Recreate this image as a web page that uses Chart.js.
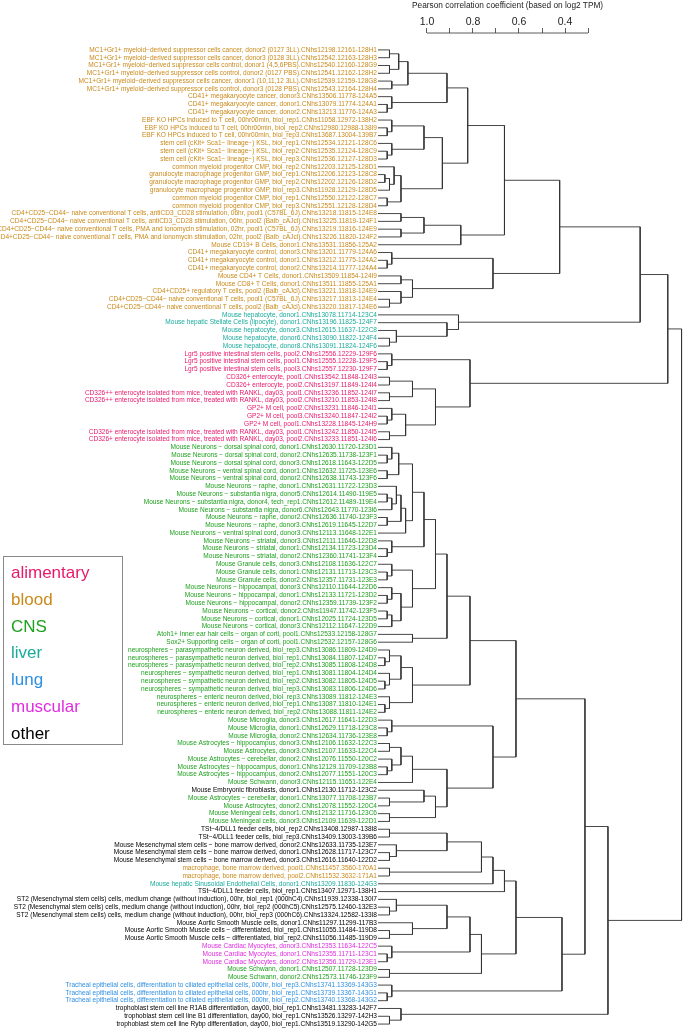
<!DOCTYPE html>
<html>
<head>
<meta charset="utf-8">
<script src="https://cdn.jsdelivr.net/npm/chart.js@4.4.1/dist/chart.umd.min.js"></script>
<style>
  body { margin: 0; background: #fff; font-family: "Liberation Sans", Arial, sans-serif; }
  #wrap { position: relative; width: 685px; height: 1035px; }
  #title { position: absolute; left: 412px; top: 0px; font-size: 8.3px; color: #222; white-space: nowrap; }
  #legend { position: absolute; left: 3px; top: 556px; width: 120px; height: 189px; border: 1px solid #888;
            box-sizing: border-box; padding: 3px 0 0 7px; }
  #legend div { font-size: 17px; line-height: 26.8px; }
</style>
</head>
<body>
<div id="wrap">
  <canvas id="treeChart" width="685" height="1035"></canvas>
  <div id="title">Pearson correlation coefficient (based on log2 TPM)</div>
  <div id="legend"></div>
</div>
<script>
// LEAVES (top to bottom)
const names = [
  "MC1+Gr1+ myeloid−derived suppressor cells cancer, donor2 (0127 3LL).CNhs12198.12161-128H1",
  "MC1+Gr1+ myeloid−derived suppressor cells cancer, donor3 (0128 3LL).CNhs12542.12163-128H3",
  "MC1+Gr1+ myeloid−derived suppressor cells control, donor1 (4,5,6PBS).CNhs12540.12160-128G9",
  "MC1+Gr1+ myeloid−derived suppressor cells control, donor2 (0127 PBS).CNhs12541.12162-128H2",
  "MC1+Gr1+ myeloid−derived suppressor cells cancer, donor1 (10,11,12 3LL).CNhs12539.12159-128G8",
  "MC1+Gr1+ myeloid−derived suppressor cells control, donor3 (0128 PBS).CNhs12543.12164-128H4",
  "CD41+ megakaryocyte cancer, donor3.CNhs13506.11778-124A5",
  "CD41+ megakaryocyte cancer, donor1.CNhs13079.11774-124A1",
  "CD41+ megakaryocyte cancer, donor2.CNhs13213.11776-124A3",
  "EBF KO HPCs induced to T cell, 00hr00min, biol_rep1.CNhs11058.12972-138H2",
  "EBF KO HPCs induced to T cell, 00hr00min, biol_rep2.CNhs12980.12988-138I9",
  "EBF KO HPCs induced to T cell, 00hr00min, biol_rep3.CNhs13687.13004-139B7",
  "stem cell (cKit+ Sca1− lineage−) KSL, biol_rep1.CNhs12534.12121-128C6",
  "stem cell (cKit+ Sca1− lineage−) KSL, biol_rep2.CNhs12535.12124-128C9",
  "stem cell (cKit+ Sca1− lineage−) KSL, biol_rep3.CNhs12536.12127-128D3",
  "common myeloid progenitor CMP, biol_rep2.CNhs12203.12125-128D1",
  "granulocyte macrophage progenitor GMP, biol_rep1.CNhs12206.12123-128C8",
  "granulocyte macrophage progenitor GMP, biol_rep2.CNhs12202.12126-128D2",
  "granulocyte macrophage progenitor GMP, biol_rep3.CNhs11928.12129-128D5",
  "common myeloid progenitor CMP, biol_rep1.CNhs12550.12122-128C7",
  "common myeloid progenitor CMP, biol_rep3.CNhs12551.12128-128D4",
  "CD4+CD25−CD44− naive conventional T cells, antiCD3_CD28 stimulation, 06hr, pool1 (C57BL_6J).CNhs13218.11815-124E8",
  "CD4+CD25−CD44− naive conventional T cells, antiCD3_CD28 stimulation, 06hr, pool2 (Balb_cAJcl).CNhs13225.11819-124F1",
  "CD4+CD25−CD44− naive conventional T cells, PMA and ionomycin stimulation, 02hr, pool1 (C57BL_6J).CNhs13219.11816-124E9",
  "CD4+CD25−CD44− naive conventional T cells, PMA and ionomycin stimulation, 02hr, pool2 (Balb_cAJcl).CNhs13226.11820-124F2",
  "Mouse CD19+ B Cells, donor1.CNhs13531.11856-125A2",
  "CD41+ megakaryocyte control, donor3.CNhs13201.11779-124A6",
  "CD41+ megakaryocyte control, donor1.CNhs13212.11775-124A2",
  "CD41+ megakaryocyte control, donor2.CNhs13214.11777-124A4",
  "Mouse CD4+ T Cells, donor1.CNhs13509.11854-124I9",
  "Mouse CD8+ T Cells, donor1.CNhs13511.11855-125A1",
  "CD4+CD25+ regulatory T cells, pool2 (Balb_cAJcl).CNhs13221.11818-124E9",
  "CD4+CD25−CD44− naive conventional T cells, pool1 (C57BL_6J).CNhs13217.11813-124E4",
  "CD4+CD25−CD44− naive conventional T cells, pool2 (Balb_cAJcl).CNhs13220.11817-124E6",
  "Mouse hepatocyte, donor1.CNhs13078.11714-123C4",
  "Mouse hepatic Stellate Cells (lipocyte), donor1.CNhs13196.11825-124F7",
  "Mouse hepatocyte, donor3.CNhs12615.11637-122C8",
  "Mouse hepatocyte, donor6.CNhs13090.11822-124F4",
  "Mouse hepatocyte, donor8.CNhs13091.11824-124F6",
  "Lgr5 positive intestinal stem cells, pool2.CNhs12556.12229-129F6",
  "Lgr5 positive intestinal stem cells, pool1.CNhs12555.12228-129F5",
  "Lgr5 positive intestinal stem cells, pool3.CNhs12557.12230-129F7",
  "CD326+ enterocyte, pool1.CNhs13542.11848-124I3",
  "CD326+ enterocyte, pool2.CNhs13197.11849-124I4",
  "CD326++ enterocyte isolated from mice, treated with RANKL, day03, pool1.CNhs13236.11852-124I7",
  "CD326++ enterocyte isolated from mice, treated with RANKL, day03, pool2.CNhs13210.11853-124I8",
  "GP2+ M cell, pool2.CNhs13231.11846-124I1",
  "GP2+ M cell, pool3.CNhs13240.11847-124I2",
  "GP2+ M cell, pool1.CNhs13228.11845-124H9",
  "CD326+ enterocyte isolated from mice, treated with RANKL, day03, pool1.CNhs13242.11850-124I5",
  "CD326+ enterocyte isolated from mice, treated with RANKL, day03, pool2.CNhs13233.11851-124I6",
  "Mouse Neurons − dorsal spinal cord, donor1.CNhs12630.11720-123D1",
  "Mouse Neurons − dorsal spinal cord, donor2.CNhs12635.11738-123F1",
  "Mouse Neurons − dorsal spinal cord, donor3.CNhs12618.11643-122D5",
  "Mouse Neurons − ventral spinal cord, donor1.CNhs12632.11725-123E6",
  "Mouse Neurons − ventral spinal cord, donor2.CNhs12638.11743-123F6",
  "Mouse Neurons − raphe, donor1.CNhs12631.11722-123D3",
  "Mouse Neurons − substantia nigra, donor5.CNhs12614.11490-119E5",
  "Mouse Neurons − substantia nigra, donor4, tech_rep1.CNhs12612.11489-119E4",
  "Mouse Neurons − substantia nigra, donor6.CNhs12643.11770-123I6",
  "Mouse Neurons − raphe, donor2.CNhs12636.11740-123F3",
  "Mouse Neurons − raphe, donor3.CNhs12619.11645-122D7",
  "Mouse Neurons − ventral spinal cord, donor3.CNhs12113.11648-122E1",
  "Mouse Neurons − striatal, donor3.CNhs12111.11646-122D8",
  "Mouse Neurons − striatal, donor1.CNhs12134.11723-123D4",
  "Mouse Neurons − striatal, donor2.CNhs12360.11741-123F4",
  "Mouse Granule cells, donor3.CNhs12108.11636-122C7",
  "Mouse Granule cells, donor1.CNhs12131.11713-123C3",
  "Mouse Granule cells, donor2.CNhs12357.11731-123E3",
  "Mouse Neurons − hippocampal, donor3.CNhs12110.11644-122D6",
  "Mouse Neurons − hippocampal, donor1.CNhs12133.11721-123D2",
  "Mouse Neurons − hippocampal, donor2.CNhs12359.11739-123F2",
  "Mouse Neurons − cortical, donor2.CNhs11947.11742-123F5",
  "Mouse Neurons − cortical, donor1.CNhs12025.11724-123D5",
  "Mouse Neurons − cortical, donor3.CNhs12112.11647-122D9",
  "Atoh1+ Inner ear hair cells − organ of corti, pool1.CNhs12533.12158-128G7",
  "Sox2+ Supporting cells − organ of corti, pool1.CNhs12532.12157-128G6",
  "neurospheres − parasympathetic neuron derived, biol_rep3.CNhs13086.11809-124D9",
  "neurospheres − parasympathetic neuron derived, biol_rep1.CNhs13084.11807-124D7",
  "neurospheres − parasympathetic neuron derived, biol_rep2.CNhs13085.11808-124D8",
  "neurospheres − sympathetic neuron derived, biol_rep1.CNhs13081.11804-124D4",
  "neurospheres − sympathetic neuron derived, biol_rep2.CNhs13082.11805-124D5",
  "neurospheres − sympathetic neuron derived, biol_rep3.CNhs13083.11806-124D6",
  "neurospheres − enteric neuron derived, biol_rep3.CNhs13089.11812-124E3",
  "neurospheres − enteric neuron derived, biol_rep1.CNhs13087.11810-124E1",
  "neurospheres − enteric neuron derived, biol_rep2.CNhs13088.11811-124E2",
  "Mouse Microglia, donor3.CNhs12617.11641-122D3",
  "Mouse Microglia, donor1.CNhs12629.11718-123C8",
  "Mouse Microglia, donor2.CNhs12634.11736-123E8",
  "Mouse Astrocytes − hippocampus, donor3.CNhs12106.11632-122C3",
  "Mouse Astrocytes, donor3.CNhs12107.11633-122C4",
  "Mouse Astrocytes − cerebellar, donor2.CNhs12076.11550-120C2",
  "Mouse Astrocytes − hippocampus, donor1.CNhs12129.11709-123B8",
  "Mouse Astrocytes − hippocampus, donor2.CNhs12077.11551-120C3",
  "Mouse Schwann, donor3.CNhs12115.11651-122E4",
  "Mouse Embryonic fibroblasts, donor1.CNhs12130.11712-123C2",
  "Mouse Astrocytes − cerebellar, donor1.CNhs13077.11708-123B7",
  "Mouse Astrocytes, donor2.CNhs12078.11552-120C4",
  "Mouse Meningeal cells, donor1.CNhs12132.11716-123C6",
  "Mouse Meningeal cells, donor3.CNhs12109.11639-122D1",
  "TSt−4/DLL1 feeder cells, biol_rep2.CNhs13408.12987-138I8",
  "TSt−4/DLL1 feeder cells, biol_rep3.CNhs13409.13003-139B6",
  "Mouse Mesenchymal stem cells − bone marrow derived, donor2.CNhs12633.11735-123E7",
  "Mouse Mesenchymal stem cells − bone marrow derived, donor1.CNhs12628.11717-123C7",
  "Mouse Mesenchymal stem cells − bone marrow derived, donor3.CNhs12616.11640-122D2",
  "macrophage, bone marrow derived, pool1.CNhs11457.3560-170A1",
  "macrophage, bone marrow derived, pool2.CNhs11532.3632-171A1",
  "Mouse hepatic Sinusoidal Endothelial Cells, donor1.CNhs13209.11830-124G3",
  "TSt−4/DLL1 feeder cells, biol_rep1.CNhs13407.12971-138H1",
  "ST2 (Mesenchymal stem cells) cells, medium change (without induction), 00hr, biol_rep1 (000hC4).CNhs11939.12338-130I7",
  "ST2 (Mesenchymal stem cells) cells, medium change (without induction), 00hr, biol_rep2 (000hC5).CNhs12575.12460-132E3",
  "ST2 (Mesenchymal stem cells) cells, medium change (without induction), 00hr, biol_rep3 (000hC6).CNhs13324.12582-133I8",
  "Mouse Aortic Smooth Muscle cells, donor1.CNhs11297.11299-117B3",
  "Mouse Aortic Smooth Muscle cells − differentiated, biol_rep1.CNhs11055.11484-119D8",
  "Mouse Aortic Smooth Muscle cells − differentiated, biol_rep2.CNhs11056.11485-119D9",
  "Mouse Cardiac Myocytes, donor3.CNhs12353.11634-122C5",
  "Mouse Cardiac Myocytes, donor1.CNhs12355.11711-123C1",
  "Mouse Cardiac Myocytes, donor2.CNhs12356.11729-123E1",
  "Mouse Schwann, donor1.CNhs12507.11728-123D9",
  "Mouse Schwann, donor2.CNhs12573.11746-123F9",
  "Tracheal epithelial cells, differentiation to ciliated epithelial cells, 000hr, biol_rep3.CNhs13741.13369-143G3",
  "Tracheal epithelial cells, differentiation to ciliated epithelial cells, 000hr, biol_rep1.CNhs13739.13367-143G1",
  "Tracheal epithelial cells, differentiation to ciliated epithelial cells, 000hr, biol_rep2.CNhs13740.13368-143G2",
  "trophoblast stem cell line R1AB differentiation, day00, biol_rep1.CNhs13481.13283-142F7",
  "trophoblast stem cell line B1 differentiation, day00, biol_rep1.CNhs13526.13297-142H3",
  "trophoblast stem cell line Rybp differentiation, day00, biol_rep1.CNhs13519.13290-142G5"
];

// tissue group of each run of leaves (run starts at the given leaf index)
const groupStarts = [0, 34, 39, 51, 95, 96, 100, 105, 107, 108, 115, 118, 120, 123];
const groupOfRun  = ["blood", "liver", "alimentary", "CNS", "other", "CNS", "other",
                     "blood", "liver", "other", "muscular", "CNS", "lung", "other"];

const legendGroups = ["alimentary", "blood", "CNS", "liver", "lung", "muscular", "other"];
const groupColors = {
  alimentary: "#e8196b", blood: "#c98a1b", CNS: "#1fa01f", liver: "#1aab9b",
  lung: "#2f8fe0", muscular: "#e02de0", other: "#000000"
};

// merges: [first leaf, first leaf of right branch, last leaf, height (1 - r)]
const merges = [
  // blood
  [0,1,1,.05],[2,3,3,.05],[0,2,3,.09],[4,5,5,.06],[0,4,5,.13],
  [7,8,8,.04],[6,7,8,.06],[0,6,8,.3],
  [10,11,11,.04],[9,10,11,.06],[13,14,14,.04],[12,13,14,.06],[9,12,14,.2],
  [16,17,17,.03],[16,18,18,.05],[15,16,18,.07],[19,20,20,.04],[15,19,20,.1],
  [9,15,20,.28],[0,9,20,.39],
  [21,22,22,.1],[23,24,24,.1],[21,23,24,.2],[21,25,25,.36],[0,21,25,.55],
  [27,28,28,.04],[26,27,28,.06],
  [29,30,30,.1],[32,33,33,.05],[31,32,33,.1],[29,31,33,.15],
  [26,29,33,.5],[0,26,33,.79],
  // liver
  [37,38,38,.05],[36,37,38,.08],[35,36,38,.3],[34,35,38,.35],[0,34,38,1.14],
  // alimentary
  [40,41,41,.04],[39,40,41,.06],[42,43,43,.05],[44,45,45,.05],[42,44,45,.15],
  [47,48,48,.04],[46,47,48,.06],[49,50,50,.05],[46,49,50,.12],[42,46,50,.25],
  [39,42,50,.4],[0,39,50,1.26],
  // CNS and others
  [52,53,53,.04],[51,52,53,.06],[54,55,55,.04],[51,54,55,.09],
  [57,58,58,.04],[57,59,59,.06],[56,57,59,.08],[60,61,61,.04],[56,60,61,.1],
  [56,62,62,.12],[51,56,62,.15],
  [64,65,65,.04],[63,64,65,.06],[51,63,65,.2],
  [67,68,68,.04],[66,67,68,.06],[70,71,71,.04],[69,70,71,.06],
  [72,73,73,.04],[72,74,74,.06],[69,72,74,.1],[66,69,74,.15],[51,66,74,.25],
  [75,76,76,.15],[51,75,76,.3],
  [78,79,79,.03],[77,78,79,.05],[81,82,82,.03],[80,81,82,.05],[77,80,82,.1],
  [84,85,85,.03],[83,84,85,.05],[77,83,85,.15],[51,77,85,.4],
  [87,88,88,.04],[86,87,88,.06],
  [89,90,90,.05],[92,93,93,.04],[91,92,93,.06],[89,91,93,.1],[89,94,94,.15],
  [96,97,97,.05],[95,96,97,.2],[98,99,99,.05],[95,98,99,.25],[89,95,99,.3],
  [86,89,99,.5],[51,86,99,.6],
  [100,101,101,.05],[103,104,104,.05],[102,103,104,.08],[100,102,104,.3],
  [105,106,106,.05],[100,105,106,.45],[100,107,107,.5],[100,108,108,.55],
  [110,111,111,.05],[109,110,111,.08],[113,114,114,.05],[112,113,114,.15],
  [109,112,114,.3],[116,117,117,.04],[115,116,117,.06],[109,115,117,.4],
  [118,119,119,.05],[109,118,119,.45],[100,109,119,.6],
  [121,122,122,.04],[120,121,122,.06],[100,120,122,.8],[51,100,122,.9],
  [124,125,125,.05],[123,124,125,.1],[51,123,125,1.0],
  [0,51,125,1.32]
];

// top axis
const axisTicks = [1.0, 0.9, 0.8, 0.7, 0.6, 0.5, 0.4, 0.3];
const axisLabels = [1.0, 0.8, 0.6, 0.4];

function groupOf(i) {
  let g = groupOfRun[0];
  groupStarts.forEach((s, k) => { if (i >= s) g = groupOfRun[k]; });
  return g;
}

// elbow segments of the dendrogram, separated by gaps
function treeSegments() {
  const nodes = new Map();
  names.forEach((n, i) => nodes.set(i + "-" + i, { y: i, h: 0 }));
  const pts = [];
  merges.slice().sort((a, b) => (a[2] - a[0]) - (b[2] - b[0])).forEach(([from, split, to, h]) => {
    const a = nodes.get(from + "-" + (split - 1));
    const b = nodes.get(split + "-" + to);
    if (!a || !b) { console.log("missing child", from, split, to); return; }
    pts.push({ x: a.h, y: a.y }, { x: h, y: a.y }, { x: h, y: b.y }, { x: b.h, y: b.y }, { x: null, y: null });
    nodes.set(from + "-" + to, { y: (a.y + b.y) / 2, h });
  });
  return pts;
}

const axisLine = {
  id: "axisLine",
  afterDraw(chart) {
    const s = chart.scales.x2, c = chart.ctx;
    c.save();
    c.strokeStyle = "#333";
    c.lineWidth = 0.8;
    c.beginPath();
    c.moveTo(s.getPixelForValue(axisTicks[0]), s.bottom);
    c.lineTo(s.getPixelForValue(axisTicks[axisTicks.length - 1]), s.bottom);
    c.stroke();
    c.restore();
  }
};

document.getElementById("legend").innerHTML = legendGroups
  .map(g => `<div style="color:${groupColors[g]}">${g}</div>`).join("");

Chart.defaults.font.family = '"Liberation Sans", Arial, sans-serif';

new Chart(document.getElementById("treeChart"), {
  type: "scatter",
  data: {
    datasets: [{
      data: treeSegments(),
      showLine: true,
      spanGaps: false,
      borderColor: "#333",
      borderWidth: 0.9,
      pointRadius: 0,
      clip: false,
      xAxisID: "x",
      yAxisID: "y"
    }]
  },
  options: {
    responsive: false,
    animation: false,
    layout: { padding: 0 },
    plugins: { legend: { display: false }, tooltip: { enabled: false } },
    scales: {
      x: { type: "linear", display: false, min: 0, max: 1.335 },
      x2: {
        type: "linear", position: "top", reverse: true, min: -0.1217, max: 1.213,
        afterFit: s => { s.height = 33; },
        afterBuildTicks: s => { s.ticks = axisTicks.map(v => ({ value: v })); },
        ticks: {
          autoSkip: false, maxRotation: 0, padding: 0, color: "#222", font: { size: 10.5 },
          callback: v => axisLabels.some(l => Math.abs(l - v) < 1e-6) ? v.toFixed(1) : ""
        },
        grid: { drawOnChartArea: false, tickLength: 5, color: "#333", lineWidth: 0.8 },
        border: { display: false }
      },
      y: {
        type: "linear", reverse: true, min: -2.17, max: 125.77,
        afterFit: s => { s.width = 378; },
        afterBuildTicks: s => { s.ticks = names.map((n, i) => ({ value: i })); },
        ticks: {
          autoSkip: false, padding: 1, font: { size: 6.55 },
          callback: v => names[v],
          color: ctx => groupColors[groupOf(ctx.index)]
        },
        grid: { display: false, drawTicks: false },
        border: { display: false }
      }
    }
  },
  plugins: [axisLine]
});
</script>
</body>
</html>
